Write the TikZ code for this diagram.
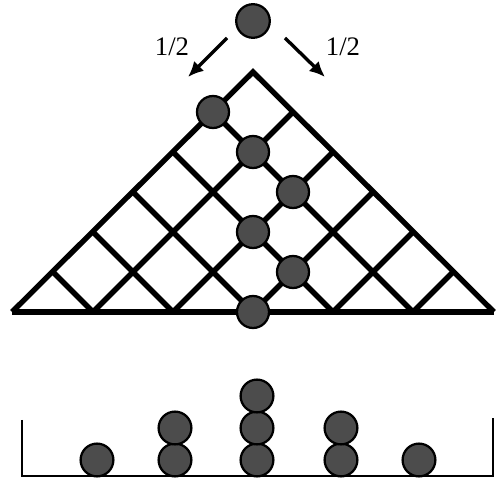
\documentclass[tikz,border=0pt]{standalone}
\usepackage{fontspec}
\setmainfont{Liberation Serif}
\usetikzlibrary{arrows.meta,positioning}

\begin{document}
\begin{tikzpicture}[x=1cm, y=1cm]
        \tikzstyle{ball} = [circle, draw, line width=1.6pt, fill=black!70, minimum size=0.8cm, inner sep=0pt]
        \tikzstyle{board} = [line width=3.8pt]
        \tikzstyle{bin} = [line width=2pt]
        \tikzstyle{arrow} = [-{Latex[length=11pt,width=10pt]}, line width=2.4pt]
        \tikzstyle{prob} = [font=\fontsize{19}{21}\selectfont, inner sep=0pt]
        \useasboundingbox (-6.325,-4.175) rectangle (6.075,7.8);
        % board
        \coordinate (apex) at (0,6);
        \coordinate (left) at (-6.025,0);
        \coordinate (right) at (6.025,0);
        \draw[board] (left)--(apex)--(right);
        \draw[board, line width=4.2pt] (left)--(right);
        \foreach \c in {-4,-2,...,4} {
            \draw[board] ({(\c-6)/2},{(\c+6)/2})--(\c,0);
            \draw[board] ({(\c+6)/2},{(6-\c)/2})--(\c,0);
        }
        % falling ball
        \node (top) [ball, minimum size=0.84cm] at (0,7.275) {};
        \coordinate (lstart) at (-0.65,6.85);
        \coordinate (lend) at (-1.625,5.875);
        \coordinate (rstart) at (0.8,6.85);
        \coordinate (rend) at (1.8,5.875);
        \draw[arrow] (lstart)--(lend);
        \draw[arrow] (rstart)--(rend);
        \node (lprob) [prob] at (-2.025,6.625) {1/2};
        \node (rprob) [prob] at (2.25,6.625) {1/2};
        % path through the pegs
        \foreach \x/\y [count=\i] in {-1/5, 0/4, 1/3, 0/2, 1/1, 0/0}
            \node (b\i) [ball] at (\x,\y) {};
        % bin
        \coordinate (binl) at (-5.775,-2.7);
        \coordinate (binr) at (6.0,-2.65);
        \draw[bin] (binl)--(-5.775,-4.1)--(6.0,-4.1)--(binr);
        \foreach \x/\n [count=\i] in {-3.9/1, -1.95/2, 0.1/3, 2.2/2, 4.15/1}
            \foreach \k in {1,...,\n}
                \node (p\i\k) [ball, minimum size=0.82cm] at (\x,{-3.7+0.8*(\k-1)}) {};
    \end{tikzpicture}
\end{document}
